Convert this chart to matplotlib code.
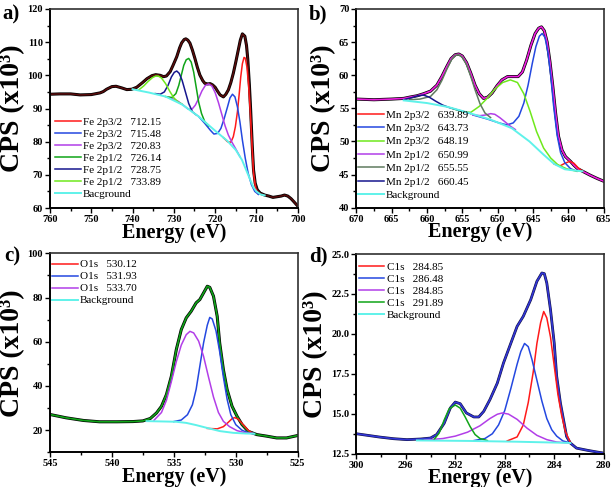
import matplotlib
matplotlib.use("Agg")
import matplotlib.pyplot as plt
from matplotlib.ticker import MultipleLocator, FormatStrFormatter

plt.rcParams['font.family'] = ['Liberation Serif', 'DejaVu Serif']

# ---------------- Panel a : Fe 2p ----------------
a_env_x = [760, 757.6, 755, 752.7, 750, 747.9, 747.1, 746.3, 745, 744, 742.6, 741.4, 740.2, 739, 737.6,
           736.5, 735.3, 734.4, 733.3, 732.5, 731.8, 730.9, 730.2, 729.3, 728.6, 728.1, 727.5, 727.1, 726.6,
           726.1, 725.5, 724.9, 724.3, 723.7, 723, 722.5, 721.8, 721.2, 720.6, 720, 719.4, 718.8, 718, 717.4,
           716.8, 716.2, 715.6, 715, 714.4, 713.9, 713.4, 712.8, 712.4, 712.1, 711.7, 711.4, 711, 710.7, 710.3,
           709.8, 709.1, 708, 707, 706, 705, 704, 703.2, 702.4, 701.6, 701, 700.5, 700]
a_env_y = [94.3, 94.4, 94.4, 94.1, 94.2, 94.7, 95.1, 95.8, 96.6, 96.7, 96.2, 95.7, 95.8, 96.4, 97.8,
           99.0, 99.9, 100.2, 100.0, 99.6, 99.8, 101.1, 103.0, 105.6, 108.3, 109.8, 110.8, 111.0, 110.6,
           109.7, 107.6, 105.1, 102.4, 100.1, 98.4, 97.6, 97.4, 97.5, 97.1, 96.4, 95.2, 94.1, 93.5, 94.3,
           95.6, 97.8, 100.6, 104.0, 107.6, 110.6, 112.5, 111.8, 109.0, 105.0, 97.0, 89.6, 78.5, 71.5, 67.5,
           65.5, 64.5, 63.9, 63.6, 63.2, 63.4, 63.6, 63.9, 63.6, 62.8, 62.0, 61.3, 60.6]
a_bg_x = [740, 736, 732, 728, 724, 720, 717, 715, 713.5, 712.5, 711.5, 710.7, 710, 709, 708]
a_bg_y = [95.8, 94.8, 93.6, 91.2, 87.6, 83.3, 80.2, 77.5, 74.5, 71.5, 68.5, 66.2, 65.0, 64.1, 63.8]
a_red_x = [718, 717, 716.2, 715.6, 715.1, 714.6, 714.2, 713.8, 713.4, 713.0, 712.7, 712.3, 711.9, 711.5,
           711.1, 710.7, 710.2, 709.6]
a_red_y = [81.2, 80.0, 79.8, 81.5, 84.5, 89.0, 94.0, 99.5, 103.5, 105.4, 105.2, 102.5, 97.0, 89.0,
           79.5, 70.5, 66.0, 64.3]
a_blue_x = [724, 722.5, 721.2, 720.3, 719.4, 718.6, 717.8, 717.0, 716.4, 715.8, 715.2, 714.6, 714.0,
            713.4, 712.7, 712.0, 711.2, 710.4, 709.5]
a_blue_y = [87.6, 85.5, 83.5, 82.3, 82.5, 84.0, 87.0, 90.5, 93.2, 94.3, 93.5, 90.5, 86.0,
            80.5, 75.0, 70.5, 67.0, 65.0, 64.1]
a_purple_x = [731, 729, 727.5, 726.5, 725.6, 724.8, 724.0, 723.2, 722.4, 721.6, 720.8, 720.0, 719.2,
              718.4, 717.6, 716.8, 716.0, 715.0, 714.0]
a_purple_y = [93.3, 92.2, 90.8, 89.8, 89.8, 91.0, 93.0, 95.3, 96.9, 97.4, 96.8, 94.8, 91.8,
              88.3, 84.8, 82.0, 80.0, 77.8, 75.5]
a_green_x = [732, 730.5, 729.5, 728.8, 728.2, 727.6, 727.0, 726.4, 725.8, 725.2, 724.6, 724.0, 723.3,
             722.5, 721.5]
a_green_y = [93.6, 93.3, 94.5, 97.0, 100.0, 103.0, 104.7, 105.1, 104.0, 101.0, 96.5, 92.0, 88.5,
             86.0, 84.7]
a_navy_x = [734.5, 733.3, 732.3, 731.4, 730.6, 729.9, 729.3, 728.7, 728.0, 727.2, 726.4, 725.5, 724.5]
a_navy_y = [94.5, 94.3, 95.0, 97.0, 99.5, 100.9, 101.3, 100.6, 98.5, 95.0, 91.5, 89.0, 88.0]
a_lgreen_x = [738.5, 737.3, 736.2, 735.2, 734.4, 733.8, 733.0, 732.0, 731.0, 730.0, 729.0, 728.0]
a_lgreen_y = [95.6, 96.8, 98.2, 99.3, 99.8, 99.8, 99.2, 97.5, 95.2, 93.2, 92.0, 91.3]
a_labels = ["Fe 2p3/2   712.15", "Fe 2p3/2   715.48", "Fe 2p3/2   720.83", "Fe 2p1/2   726.14",
            "Fe 2p1/2   728.75", "Fe 2p1/2   733.89", "Bacground"]

# ---------------- Panel b : Mn 2p ----------------
b_env_x = [670, 667.5, 665, 663.3, 662.4, 661.4, 660.5, 659.5, 658.6, 657.9, 657.2, 656.6, 656.0, 655.5,
           655.0, 654.4, 653.8, 653.2, 652.6, 652.0, 651.4, 650.8, 650.1, 649.4, 648.6, 647.8, 647.1, 646.5,
           645.9, 645.3, 644.7, 644.2, 643.8, 643.4, 643.0, 642.6, 642.2, 641.8, 641.4, 640.9, 640.4, 639.7,
           639.2, 638.7, 637.8, 636.9, 635.9, 635.0]
b_env_y = [56.4, 56.3, 56.4, 56.5, 56.7, 56.9, 57.2, 57.6, 58.5, 59.8, 61.3, 62.5, 63.1, 63.2,
           62.9, 61.9, 60.3, 58.5, 57.2, 56.5, 56.7, 57.3, 58.4, 59.3, 59.8, 59.8, 59.8, 60.5,
           62.3, 64.5, 66.3, 67.1, 67.3, 66.7, 65.0, 62.0, 58.3, 54.2, 50.8, 48.7, 47.7, 47.0,
           46.4, 45.9, 45.4, 44.9, 44.4, 44.0]
b_bg_x = [663.3, 660, 657, 654, 651, 648, 645.5, 643.5, 642, 640.5, 639, 638]
b_bg_y = [56.2, 55.8, 55.2, 54.3, 53.3, 52.0, 50.0, 48.0, 46.6, 45.8, 45.6, 45.5]
b_red_x = [642, 641.2, 640.5, 639.8, 639.2, 638.6, 638.0]
b_red_y = [46.6, 46.3, 46.7, 47.0, 46.7, 46.0, 45.5]
b_blue_x = [653.5, 651.5, 649.8, 648.7, 647.8, 647.0, 646.3, 645.7, 645.1, 644.6, 644.1, 643.7, 643.3,
            642.9, 642.5, 642.1, 641.6, 641.1, 640.5, 639.7, 638.8]
b_blue_y = [54.0, 53.4, 52.8, 52.5, 52.8, 53.8, 55.8, 58.5, 61.8, 64.3, 65.9, 66.3, 65.7,
            63.5, 60.0, 55.5, 51.0, 48.3, 46.8, 45.9, 45.5]
b_green_x = [656.5, 655, 653.8, 652.6, 651.5, 650.4, 649.3, 648.2, 647.2, 646.3, 645.4, 644.5, 643.5,
             642.5, 641.5, 640.3, 639.2, 638.3]
b_green_y = [55.0, 54.5, 54.4, 55.3, 56.5, 57.9, 58.9, 59.3, 58.9, 57.2, 54.5, 51.5, 49.0,
             47.5, 46.5, 45.9, 45.6, 45.5]
b_purple_x = [653.5, 652.5, 651.7, 651.0, 650.4, 649.7, 649.0, 648.2, 647.5]
b_purple_y = [54.0, 53.9, 54.0, 54.2, 54.1, 53.6, 53.0, 52.3, 51.8]
b_gray_x = [662.5, 661, 659.5, 658.6, 657.9, 657.2, 656.5, 656.0, 655.5, 655.0, 654.4, 653.8, 653.2,
            652.5, 651.8, 651.0]
b_gray_y = [56.3, 56.4, 56.8, 57.8, 59.2, 60.9, 62.4, 63.0, 63.1, 62.7, 61.6, 59.8, 57.8,
            55.7, 54.3, 53.6]
b_navy_x = [663.3, 662.2, 661.3, 660.5, 659.7, 658.8, 657.8, 656.8, 655.8, 654.8, 653.8]
b_navy_y = [56.3, 56.6, 56.9, 57.0, 56.7, 56.1, 55.5, 55.1, 54.8, 54.5, 54.2]
b_labels = ["Mn 2p3/2   639.89", "Mn 2p3/2   643.73", "Mn 2p3/2   648.19", "Mn 2p1/2   650.99",
            "Mn 2p1/2   655.55", "Mn 2p1/2   660.45", "Background"]

# ---------------- Panel c : O 1s ----------------
c_env_x = [545, 543.7, 542.3, 541, 539.6, 538.3, 537.5, 536.9, 536.4, 536.0, 535.6, 535.2, 534.8, 534.4,
           534.0, 533.6, 533.2, 532.9, 532.6, 532.3, 532.1, 531.8, 531.5, 531.3, 531.0, 530.7, 530.3,
           529.9, 529.5, 529.0, 528.3, 527.5, 526.7, 525.9, 525]
c_env_y = [27.1, 25.6, 24.4, 23.8, 23.8, 23.9, 24.2, 25.3, 27.8, 30.8, 36.1, 44.4, 56.5, 65.5,
           70.8, 73.8, 77.6, 79.1, 82.1, 85.1, 84.6, 80.6, 71.5, 59.5, 47.4, 38.4, 30.8,
           26.3, 22.6, 19.5, 18.0, 17.3, 16.5, 16.5, 17.6]
c_bg_x = [537.2, 535.5, 534.8, 534.0, 533.2, 532.3, 531.3, 530.2, 529.2, 528.5]
c_bg_y = [24.1, 23.9, 23.8, 23.3, 22.3, 21.0, 19.6, 18.8, 18.5, 18.4]
c_red_x = [532.3, 531.5, 531.0, 530.6, 530.3, 530.1, 529.8, 529.4, 529.0, 528.6]
c_red_y = [20.8, 20.6, 21.6, 23.6, 25.2, 25.7, 25.0, 22.5, 20.0, 18.5]
c_blue_x = [535.0, 534.4, 533.9, 533.5, 533.2, 532.9, 532.6, 532.3, 532.1, 531.9, 531.6, 531.3, 531.0,
            530.7, 530.4, 530.0, 529.5, 529.0, 528.5]
c_blue_y = [23.9, 24.6, 27.0, 31.5, 38.5, 49.0, 59.5, 67.5, 71.0, 70.3, 65.0, 55.5, 44.0,
            34.0, 27.0, 22.5, 20.0, 18.8, 18.4]
c_purple_x = [536.6, 536.0, 535.6, 535.2, 534.8, 534.4, 534.0, 533.7, 533.4, 533.0, 532.6, 532.2, 531.8,
              531.4, 531.0, 530.5, 529.9, 529.2, 528.6]
c_purple_y = [24.5, 28.0, 33.5, 42.0, 51.0, 58.5, 63.2, 64.7, 64.0, 60.3, 53.4, 44.0, 35.0,
              28.0, 24.0, 21.6, 19.8, 18.8, 18.5]
c_labels = ["O1s   530.12", "O1s   531.93", "O1s   533.70", "Background"]

# ---------------- Panel d : C 1s ----------------
d_env_x = [300, 299.1, 298.1, 297.0, 295.9, 294.8, 294.0, 293.5, 292.9, 292.4, 292.0, 291.6, 291.1, 290.5,
           290.1, 289.7, 289.2, 288.6, 288.1, 287.5, 287.0, 286.5, 285.9, 285.4, 285.0, 284.8, 284.6,
           284.3, 284.0, 283.8, 283.5, 283.2, 283.0, 282.7, 282.2, 281.3, 280.5, 280.0]
d_env_y = [13.75, 13.65, 13.54, 13.44, 13.38, 13.42, 13.48, 13.7, 14.4, 15.36, 15.73, 15.63, 15.05, 14.8,
           14.8, 15.15, 15.88, 16.92, 18.18, 19.43, 20.47, 21.1, 22.14, 23.29, 23.81, 23.77, 23.18,
           21.51, 19.43, 17.34, 15.67, 14.42, 13.58, 13.17, 12.85, 12.71, 12.6, 12.54]
d_bg_x = [295.1, 291, 287, 283, 282.7]
d_bg_y = [13.33, 13.3, 13.25, 13.18, 13.17]
d_red_x = [287.8, 287.0, 286.5, 286.1, 285.7, 285.4, 285.1, 284.85, 284.6, 284.3, 284.0, 283.7, 283.4,
           283.1, 282.7]
d_red_y = [13.3, 13.55, 14.3, 15.7, 17.6, 19.4, 20.7, 21.4, 21.0, 19.8, 18.0, 16.2, 14.9, 13.9, 13.2]
d_blue_x = [290.5, 289.6, 289.0, 288.5, 288.0, 287.5, 287.0, 286.7, 286.4, 286.1, 285.8, 285.4, 285.0,
            284.6, 284.2, 283.8, 283.3, 282.7]
d_blue_y = [13.32, 13.45, 13.75, 14.3, 15.2, 16.6, 18.1, 18.9, 19.4, 19.2, 18.4, 17.1, 15.8,
            14.7, 14.0, 13.6, 13.3, 13.17]
d_purple_x = [294.5, 293.0, 292.0, 291.0, 290.0, 289.2, 288.6, 288.2, 287.7, 287.0, 286.2, 285.4, 284.6,
              283.8, 282.7]
d_purple_y = [13.35, 13.45, 13.6, 13.85, 14.25, 14.7, 14.97, 15.05, 14.98, 14.65, 14.1, 13.65, 13.38,
              13.23, 13.17]
d_green_x = [293.7, 293.3, 292.9, 292.5, 292.0, 291.6, 291.2, 290.8, 290.4, 290.0, 289.4]
d_green_y = [13.4, 13.8, 14.6, 15.3, 15.55, 15.35, 14.8, 14.2, 13.7, 13.45, 13.32]
d_labels = ["C1s   284.85", "C1s   286.48", "C1s   284.85", "C1s   291.89", "Background"]

# ---------------- colours ----------------
RED = '#ff1a1a'
BLUE = '#2448e0'
PURPLE = '#b23ee8'
GREEN = '#10a418'
NAVY = '#16168e'
LGREEN = '#6fe81c'
CYAN = '#5ff2ea'
GRAYG = '#5f7a5f'
MAROON = '#5a0c0c'
MAGENTA = '#ee1ee0'

W, H = 614, 487
fig = plt.figure(figsize=(W / 100, H / 100), dpi=100)


def make_ax(l, t, r, b):
    return fig.add_axes([l / W, 1 - b / H, (r - l) / W, (b - t) / H])


def style(ax, xlim, ylim, xmaj, xmin, ymaj, ymin, yfmt=None):
    ax.set_xlim(*xlim)
    ax.set_ylim(*ylim)
    ax.xaxis.set_major_locator(MultipleLocator(xmaj))
    ax.xaxis.set_minor_locator(MultipleLocator(xmin))
    ax.yaxis.set_major_locator(MultipleLocator(ymaj))
    ax.yaxis.set_minor_locator(MultipleLocator(ymin))
    if yfmt:
        ax.yaxis.set_major_formatter(FormatStrFormatter(yfmt))
    ax.tick_params(which='both', direction='out', top=False, right=False, width=1.0,
                   labelsize=7.5, pad=1.5)
    ax.tick_params(which='major', length=3.5)
    ax.tick_params(which='minor', length=2.2)
    for lab in ax.get_xticklabels() + ax.get_yticklabels():
        lab.set_fontweight('bold')
    for s in ['left', 'bottom']:
        ax.spines[s].set_linewidth(1.4)
        ax.spines[s].set_color('black')
    for s in ['top', 'right']:
        ax.spines[s].set_linewidth(1.2)
        ax.spines[s].set_color('#303030')
    ax.set_xlabel('Energy (eV)', fontsize=14.5, fontweight='bold', labelpad=-1)
    ax.set_ylabel('CPS (x10³)', fontsize=20, fontweight='bold', labelpad=2)


def legend(ax, handles, labels, anchor, spacing, fs=8):
    ax.legend(handles, labels, loc='upper left', bbox_to_anchor=anchor, frameon=False,
              fontsize=fs, handlelength=2.3, handletextpad=0.2, labelspacing=spacing,
              borderpad=0, borderaxespad=0)


LW = 1.1

# ---- a ----
ax = make_ax(50, 9, 297.7, 208)
ax.plot(a_env_x, a_env_y, color='black', lw=2.2)
ax.plot(a_env_x, a_env_y, color=MAROON, lw=1.1)
h = []
h.append(ax.plot(a_red_x, a_red_y, color=RED, lw=LW)[0])
h.append(ax.plot(a_blue_x, a_blue_y, color=BLUE, lw=LW)[0])
h.append(ax.plot(a_purple_x, a_purple_y, color=PURPLE, lw=LW)[0])
h.append(ax.plot(a_green_x, a_green_y, color=GREEN, lw=LW)[0])
h.append(ax.plot(a_navy_x, a_navy_y, color=NAVY, lw=LW)[0])
h.append(ax.plot(a_lgreen_x, a_lgreen_y, color=LGREEN, lw=LW)[0])
h.append(ax.plot(a_bg_x, a_bg_y, color=CYAN, lw=1.4)[0])
style(ax, (760, 700), (60, 120), 10, 5, 10, 5)
legend(ax, h, a_labels, (0.02, 0.455), 0.2)

# ---- b ----
ax = make_ax(356.3, 9, 603.7, 207.7)
ax.plot(b_env_x, b_env_y, color='black', lw=2.2)
ax.plot(b_env_x, b_env_y, color=MAGENTA, lw=1.2)
h = []
h.append(ax.plot(b_red_x, b_red_y, color=RED, lw=LW)[0])
h.append(ax.plot(b_blue_x, b_blue_y, color=BLUE, lw=LW)[0])
h.append(ax.plot(b_green_x, b_green_y, color=LGREEN, lw=LW)[0])
h.append(ax.plot(b_purple_x, b_purple_y, color=PURPLE, lw=LW)[0])
h.append(ax.plot(b_gray_x, b_gray_y, color=GRAYG, lw=LW)[0])
h.append(ax.plot(b_navy_x, b_navy_y, color=NAVY, lw=LW)[0])
h.append(ax.plot(b_bg_x, b_bg_y, color=CYAN, lw=1.4)[0])
style(ax, (670, 635), (40, 70), 5, 2.5, 5, 2.5)
legend(ax, h, b_labels, (0.007, 0.493), 0.33)

# ---- c ----
ax = make_ax(50, 253.3, 297.7, 452.3)
ax.plot(c_env_x, c_env_y, color='black', lw=2.2)
ax.plot(c_env_x, c_env_y, color=GREEN, lw=1.2)
h = []
h.append(ax.plot(c_red_x, c_red_y, color=RED, lw=LW)[0])
h.append(ax.plot(c_blue_x, c_blue_y, color=BLUE, lw=LW)[0])
h.append(ax.plot(c_purple_x, c_purple_y, color=PURPLE, lw=LW)[0])
h.append(ax.plot(c_bg_x, c_bg_y, color=CYAN, lw=1.4)[0])
style(ax, (545, 525), (10, 100), 5, 2.5, 20, 10)
legend(ax, h, c_labels, (0.008, 0.968), 0.2)

# ---- d ----
ax = make_ax(356.3, 254, 603.7, 453.7)
ax.plot(d_env_x, d_env_y, color='#101040', lw=2.0)
ax.plot(d_env_x, d_env_y, color='#3236d6', lw=1.2)
h = []
h.append(ax.plot(d_red_x, d_red_y, color=RED, lw=LW)[0])
h.append(ax.plot(d_blue_x, d_blue_y, color=BLUE, lw=LW)[0])
h.append(ax.plot(d_purple_x, d_purple_y, color=PURPLE, lw=LW)[0])
h.append(ax.plot(d_green_x, d_green_y, color=GREEN, lw=LW)[0])
h.append(ax.plot(d_bg_x, d_bg_y, color=CYAN, lw=1.4)[0])
style(ax, (300, 280), (12.5, 25.0), 4, 2, 2.5, 1.25, '%.1f')
legend(ax, h, d_labels, (0.01, 0.958), 0.2)

# panel letters
for txt, x, y in [('a)', 2, 4), ('b)', 309, 4), ('c)', 4, 246), ('d)', 309, 246)]:
    fig.text(x / W, 1 - y / H, txt, fontsize=15, fontweight='bold', ha='left', va='top')

fig.savefig('out.png', dpi=100)
